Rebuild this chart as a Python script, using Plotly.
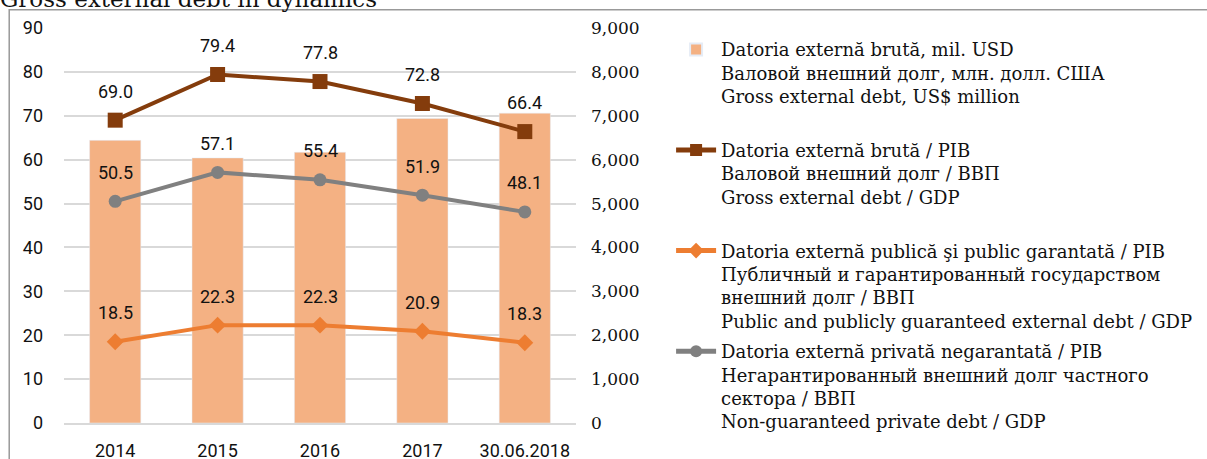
import plotly.graph_objects as go

# categories and series
periods = ['2014', '2015', '2016', '2017', '30.06.2018']
gross_debt_usd = [6440, 6040, 6170, 6940, 7060]   # mil. USD (right axis)
gross_debt_gdp = [69.0, 79.4, 77.8, 72.8, 66.4]
public_debt_gdp = [18.5, 22.3, 22.3, 20.9, 18.3]
private_debt_gdp = [50.5, 57.1, 55.4, 51.9, 48.1]

names = [
    'Datoria externă brută, mil. USD<br>Валовой внешний долг, млн. долл. США<br>Gross external debt, US$ million<br> ',
    'Datoria externă brută / PIB<br>Валовой внешний долг / ВВП<br>Gross external debt / GDP<br> ',
    'Datoria externă publică şi public garantată / PIB<br>Публичный и гарантированный государством<br>внешний долг / ВВП<br>Public and publicly guaranteed external debt / GDP',
    'Datoria externă privată negarantată / PIB<br>Негарантированный внешний долг частного<br>сектора / ВВП<br>Non-guaranteed private debt / GDP',
]

SANS = 'Liberation Sans Narrow, Roboto, sans-serif'
SERIF = 'DejaVu Serif, serif'

fig = go.Figure()
fig.add_trace(go.Bar(x=periods, y=gross_debt_usd, name=names[0], legendgroup='a',
                     marker_color='#F4B183', width=0.5, yaxis='y'))
fig.add_trace(go.Scatter(x=periods, y=gross_debt_gdp, name=names[1], legendgroup='b',
                         mode='lines+markers', line=dict(color='#843C0C', width=4),
                         marker=dict(symbol='square', size=15, color='#843C0C'), yaxis='y2'))
fig.add_trace(go.Scatter(x=periods, y=public_debt_gdp, name=names[2], legendgroup='c',
                         mode='lines+markers', line=dict(color='#ED7D31', width=4),
                         marker=dict(symbol='diamond', size=13, color='#ED7D31'), yaxis='y2'))
fig.add_trace(go.Scatter(x=periods, y=private_debt_gdp, name=names[3], legendgroup='d',
                         mode='lines+markers', line=dict(color='#808080', width=4),
                         marker=dict(symbol='circle', size=13, color='#808080'), yaxis='y2'))

# value labels above the points (x given as category index)
for series in [gross_debt_gdp, public_debt_gdp, private_debt_gdp]:
    for i, v in enumerate(series):
        fig.add_annotation(x=i, y=v, yref='y2', text=f'{v:.1f}', showarrow=False,
                           yshift=29, font=dict(family=SANS, size=18, color='#111'))

# cut-off title at the top and the frame around the chart
fig.add_annotation(xref='paper', yref='paper', x=-0.129, y=1.035, xanchor='left', yanchor='bottom',
                   text='Gross external debt in dynamics', showarrow=False,
                   font=dict(family=SERIF, size=23, color='#111'))
fig.add_shape(type='rect', xref='paper', yref='paper', x0=-0.107, x1=2.5, y0=-0.2, y1=1.046,
              line=dict(color='#999', width=1.5), layer='below')

fig.update_layout(
    width=1207, height=459,
    margin=dict(l=64, r=631, t=28, b=36),
    plot_bgcolor='white', paper_bgcolor='white',
    xaxis=dict(type='category', range=[-0.5, 4.5], showgrid=False, showline=True,
               linecolor='#D9D9D9', linewidth=2, automargin=False,
               tickfont=dict(family=SANS, size=18, color='#111'), ticks='',
               ticklabelstandoff=10),
    yaxis=dict(side='right', range=[0, 9000], dtick=1000, tickformat=',', automargin=False,
               showgrid=True, gridcolor='#D9D9D9', gridwidth=1.5, zeroline=False,
               tickfont=dict(family=SERIF, size=17, color='#111'), ticklabelstandoff=14),
    yaxis2=dict(side='left', overlaying='y', range=[0, 90], dtick=10, showgrid=False,
                zeroline=False, automargin=False,
                tickfont=dict(family=SANS, size=18, color='#111'), ticklabelstandoff=20),
    legend=dict(xref='container', yref='container', x=0.556, y=0.932, xanchor='left',
                yanchor='top', valign='top', font=dict(family=SERIF, size=18, color='#111'),
                tracegroupgap=4, itemwidth=40, itemsizing='constant',
                bgcolor='rgba(0,0,0,0)', maxheight=459),
    showlegend=True,
)

# drop the page's default body margin so the figure sits at the window's corner
fig.write_html('out.html', config={'displayModeBar': False},
               post_script="document.body.style.margin='0';")
